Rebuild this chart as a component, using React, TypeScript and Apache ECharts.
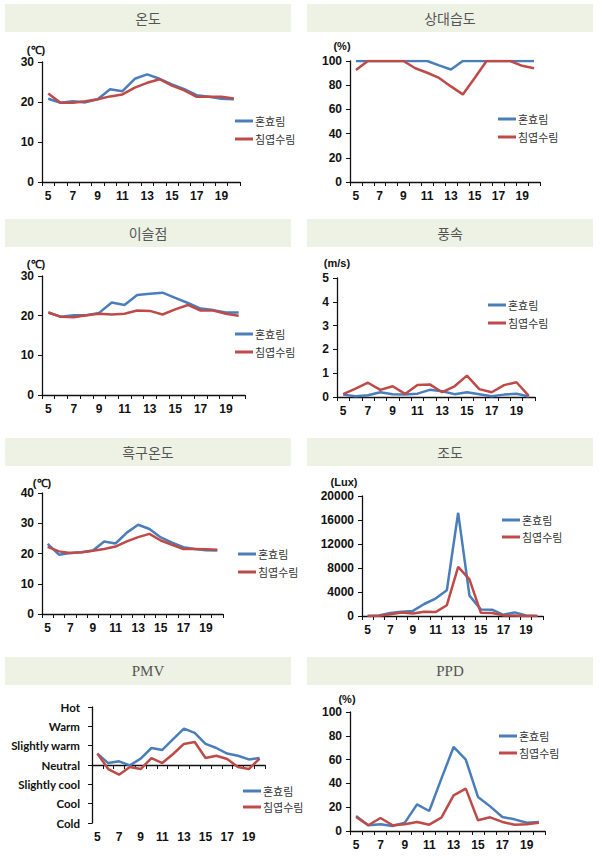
import React, { useEffect, useRef } from "react";
import * as echarts from "echarts";

const hours = ["5","6","7","8","9","10","11","12","13","14","15","16","17","18","19","20"];
const seriesNames = ["혼효림", "침엽수림"];

const tempMixed = [20.8,19.8,20.2,19.9,20.7,23.2,22.7,25.8,26.9,25.8,24.4,23.2,21.7,21.3,20.8,20.7];
const tempConifer = [22.1,19.8,19.8,20.2,20.7,21.4,21.9,23.6,24.8,25.7,24.1,22.9,21.3,21.3,21.3,20.9];

const rhMixed = [100,100,100,100,100,100,100,96.4,93,100,100,100,100,100,100,100];
const rhConifer = [92.5,100,100,100,100,94,90.3,86,79,72.4,86,100,100,100,96,94];

const dewMixed = [20.8,19.7,20.1,20.1,20.7,23.3,22.7,25.2,25.5,25.8,24.5,23.2,21.8,21.4,20.8,20.8];
const dewConifer = [20.8,19.7,19.6,20.1,20.5,20.3,20.5,21.3,21.2,20.3,21.6,22.7,21.3,21.3,20.5,20.0];

const windMixed = [0.1,0.03,0.07,0.2,0.12,0.1,0.14,0.3,0.24,0.12,0.2,0.12,0.03,0.1,0.14,0.02];
const windConifer = [0.12,0.35,0.6,0.3,0.45,0.13,0.5,0.53,0.2,0.45,0.9,0.33,0.2,0.5,0.62,0.05];

const globeMixed = [23.2,19.6,20.2,20.4,21.0,24.0,23.3,26.9,29.5,28.1,25.3,23.6,22.1,21.5,21.1,21.0];
const globeConifer = [22.2,20.7,20.2,20.4,20.9,21.5,22.3,24.0,25.4,26.5,24.3,22.9,21.5,21.5,21.4,21.2];

const luxMixed = [0,100,500,700,850,2000,2900,4300,17200,3400,1100,1050,200,600,100,0];
const luxConifer = [0,50,300,600,400,700,650,1800,8200,6100,550,500,100,100,0,0];

const pmvMixed = [0.59,0.1,0.19,-0.02,0.33,0.88,0.78,1.34,1.88,1.66,1.09,0.88,0.59,0.48,0.29,0.36];
const pmvConifer = [0.59,-0.21,-0.5,-0.1,-0.21,0.36,0.1,0.57,1.09,1.19,0.36,0.48,0.31,-0.1,-0.21,0.33];
const pmvLevels = ["Cold","Cool","Slightly cool","Neutral","Slightly warm","Warm","Hot"];

const ppdMixed = [12.6,4.8,5.6,4.2,7,22.4,16.8,44,70.6,60,28.6,20.7,11.8,9.8,7,7.6];
const ppdConifer = [11.8,4.8,10.9,4.8,5.6,7.6,5.3,11.2,30,35.6,9,11.5,7.6,5.3,5.6,7];

const titles = ["온도","상대습도","이슬점","풍속","흑구온도","조도","PMV","PPD"];
const units = ["(℃)","(%)","(℃)","(m/s)","(℃)","(Lux)","","(%)"];
const yMin = [0,0,0,0,0,0,-3,0];
const yMax = [30,100,30,5,40,20000,3,100];
const yInterval = [10,20,10,1,10,4000,1,20];
const panelData = [
  [tempMixed, tempConifer],
  [rhMixed, rhConifer],
  [dewMixed, dewConifer],
  [windMixed, windConifer],
  [globeMixed, globeConifer],
  [luxMixed, luxConifer],
  [pmvMixed, pmvConifer],
  [ppdMixed, ppdConifer],
];

// layout (px)
const grids = [
  { left: 42, top: 62, width: 198, height: 120 },
  { left: 350, top: 61, width: 190, height: 121 },
  { left: 42, top: 276, width: 203, height: 119 },
  { left: 337, top: 278, width: 198, height: 119 },
  { left: 42, top: 493, width: 181, height: 121 },
  { left: 362, top: 496, width: 181, height: 120 },
  { left: 92, top: 707, width: 173, height: 116 },
  { left: 350, top: 712, width: 195, height: 119 },
];
const bands = [
  { x: 5, y: 4 }, { x: 307, y: 4 },
  { x: 5, y: 219 }, { x: 307, y: 219 },
  { x: 5, y: 438 }, { x: 307, y: 438 },
  { x: 5, y: 657 }, { x: 307, y: 657 },
];
const unitPos = [
  { x: 36, y: 50 }, { x: 342, y: 46 },
  { x: 36, y: 264 }, { x: 337, y: 263 },
  { x: 42, y: 483 }, { x: 344, y: 482 },
  { x: 0, y: 0 }, { x: 347, y: 699 },
];
const legendPos = [
  { left: 235, top: 114, gap: 4 },
  { left: 498, top: 112, gap: 4 },
  { left: 235, top: 327, gap: 4 },
  { left: 488, top: 298, gap: 4 },
  { left: 238, top: 547, gap: 4 },
  { left: 502, top: 513, gap: 3 },
  { left: 243, top: 784, gap: 2 },
  { left: 499, top: 729, gap: 3 },
];

const BLUE = "#4A7EBB";
const RED = "#BE4B48";
const labelFont = { fontFamily: "Liberation Sans, Arial, sans-serif", fontWeight: "bold" as const, fontSize: 12, color: "#111" };

export default function App() {
  const ref = useRef<HTMLDivElement>(null);
  useEffect(() => {
    if (!ref.current) return;
    const chart = echarts.init(ref.current, undefined, { renderer: "svg" });

    const graphic: any[] = [];
    titles.forEach((t, i) => {
      const b = bands[i];
      graphic.push({
        type: "rect",
        shape: { x: b.x, y: b.y, width: 286, height: 28 },
        style: { fill: "#EDF2E4" },
        silent: true,
      });
      const latin = /^[A-Z]+$/.test(t);
      graphic.push({
        type: "text",
        x: b.x + 143,
        y: b.y + 14,
        style: {
          text: t,
          textAlign: "center",
          textVerticalAlign: "middle",
          fill: "#555",
          fontSize: latin ? 15 : 14,
          fontFamily: latin ? "Liberation Serif, DejaVu Serif, serif" : "Noto Sans CJK KR, sans-serif",
          letterSpacing: latin ? 0 : 2,
        },
        silent: true,
      });
      if (units[i]) {
        graphic.push({
          type: "text",
          x: unitPos[i].x,
          y: unitPos[i].y,
          style: {
            text: units[i],
            textAlign: "center",
            textVerticalAlign: "middle",
            fill: "#111",
            fontSize: 11,
            fontWeight: "bold",
            fontFamily: "Liberation Sans, Arial, sans-serif",
          },
          silent: true,
        });
      }
    });

    const xAxis = grids.map((_, i) => ({
      type: "category",
      gridIndex: i,
      data: hours,
      boundaryGap: true,
      axisLine: { lineStyle: { color: "#111", width: 1.3 } },
      axisTick: { show: true, interval: 0, length: 4, lineStyle: { color: "#111" } },
      axisLabel: { ...labelFont, interval: 1, margin: 8 },
      splitLine: { show: false },
    }));

    const yAxis = grids.map((_, i) => ({
      type: "value",
      gridIndex: i,
      min: yMin[i],
      max: yMax[i],
      interval: yInterval[i],
      axisLine: { show: true, lineStyle: { color: "#111", width: 1.3 } },
      axisTick: { show: true, length: 4, lineStyle: { color: "#111" } },
      axisLabel: i === 6
        ? { ...labelFont, fontFamily: "Lato, sans-serif", fontSize: 11.5, margin: 12, formatter: (v: number) => pmvLevels[Math.round(v) + 3] }
        : { ...labelFont, margin: 8, formatter: (v: number) => String(v) },
      splitLine: { show: false },
    }));

    const series: any[] = [];
    panelData.forEach((pair, i) => {
      pair.forEach((vals, k) => {
        series.push({
          type: "line",
          name: seriesNames[k],
          xAxisIndex: i,
          yAxisIndex: i,
          data: vals,
          symbol: "none",
          lineStyle: { width: 2.5, color: k === 0 ? BLUE : RED },
          itemStyle: { color: k === 0 ? BLUE : RED },
          z: 2 + k,
        });
      });
    });

    const legend = legendPos.map((p) => ({
      data: seriesNames,
      orient: "vertical",
      left: p.left,
      top: p.top,
      itemGap: p.gap,
      itemWidth: 18,
      itemHeight: 3,
      icon: "rect",
      selectedMode: false,
      padding: 0,
      textStyle: { fontSize: 11, lineHeight: 14, color: "#333", fontFamily: "Noto Sans CJK KR, sans-serif", padding: [0, 0, 0, -3] },
    }));

    chart.setOption({
      animation: false,
      backgroundColor: "#fff",
      grid: grids.map((g) => ({ ...g, containLabel: false })),
      xAxis,
      yAxis,
      series,
      legend,
      graphic,
    });
    return () => chart.dispose();
  }, []);
  return (
    <div
      ref={ref}
      style={{ position: "absolute", left: 0, top: 0, width: 603, height: 862 }}
    />
  );
}
